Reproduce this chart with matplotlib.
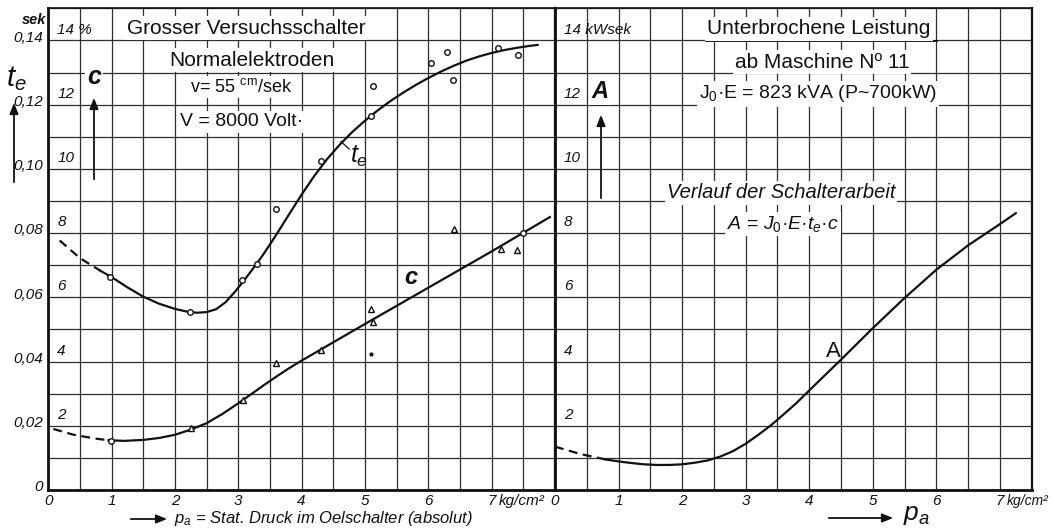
import numpy as np
import matplotlib
matplotlib.use("Agg")
import matplotlib.pyplot as plt
from matplotlib.transforms import ScaledTranslation

plt.rcParams['font.family'] = ['Liberation Sans', 'DejaVu Sans']
plt.rcParams['mathtext.fontset'] = 'custom'
plt.rcParams['mathtext.rm'] = 'Liberation Sans'
plt.rcParams['mathtext.it'] = 'Liberation Sans:italic'

# ---------------- data ----------------
# left panel: t_e (seconds) curve and measurements
te_dash_x = [0.18, 0.5, 0.82]
te_dash_y = [0.0777, 0.0722, 0.0683]
te_curve_x = [0.82, 1.0, 1.25, 1.5, 1.75, 2.0, 2.2, 2.35, 2.5, 2.65, 2.8, 2.95, 3.1,
              3.25, 3.4, 3.6, 3.8, 4.0, 4.2, 4.4, 4.6, 4.8, 5.0, 5.2, 5.4, 5.6, 5.8,
              6.0, 6.2, 6.4, 6.6, 6.8, 7.0, 7.2, 7.4, 7.6, 7.73]
te_curve_y = [0.0683, 0.0663, 0.0631, 0.0602, 0.0580, 0.0564, 0.0555, 0.0552, 0.0554,
              0.0563, 0.0585, 0.0618, 0.0655, 0.0694, 0.0735, 0.0795, 0.0858, 0.0920,
              0.0978, 0.1030, 0.1075, 0.1115, 0.1150, 0.1182, 0.1211, 0.1237, 0.1261,
              0.1283, 0.1303, 0.1321, 0.1337, 0.1350, 0.1361, 0.1370, 0.1377, 0.1383,
              0.1386]
te_pts_x = [0.98, 2.24, 3.06, 3.30, 3.59, 4.30, 5.13, 5.10, 6.04, 6.30, 6.39, 7.10, 7.41]
te_pts_y = [0.0664, 0.0553, 0.0655, 0.0704, 0.0876, 0.1025, 0.1259, 0.1165, 0.1329,
            0.1363, 0.1277, 0.1376, 0.1355]

# left panel: c (%) curve and measurements
c_dash_x = [0.08, 0.4, 0.75, 0.95]
c_dash_y = [1.90, 1.72, 1.60, 1.55]
c_curve_x = [0.95, 1.2, 1.5, 1.75, 2.0, 2.25, 2.5, 2.75, 3.0, 3.2, 3.4, 3.6, 3.8,
             4.0, 4.5, 5.0, 6.0, 7.0, 7.92]
c_curve_y = [1.55, 1.53, 1.56, 1.62, 1.72, 1.88, 2.08, 2.37, 2.70, 2.98, 3.26, 3.53,
             3.79, 4.03, 4.60, 5.17, 6.30, 7.43, 8.50]
c_tri_x = [2.25, 3.07, 3.59, 4.30, 5.09, 5.13, 6.40, 7.14, 7.40]
c_tri_y = [1.92, 2.80, 3.97, 4.37, 5.64, 5.22, 8.14, 7.49, 7.47]
c_circ_x = [0.99, 7.50]
c_circ_y = [1.54, 8.01]
c_dot_x = [5.09]
c_dot_y = [4.24]

# right panel: A (kWsek)
A_dash_x = [0.0, 0.4, 0.8]
A_dash_y = [1.35, 1.12, 0.95]
A_curve_x = [0.8, 1.0, 1.2, 1.4, 1.6, 1.8, 2.0, 2.2, 2.4, 2.6, 2.8, 3.0, 3.2, 3.4,
             3.6, 3.8, 4.0, 4.5, 5.0, 5.5, 6.0, 6.5, 7.0, 7.25]
A_curve_y = [0.95, 0.89, 0.84, 0.80, 0.78, 0.78, 0.80, 0.85, 0.92, 1.04, 1.21, 1.44,
             1.72, 2.02, 2.36, 2.71, 3.10, 4.06, 5.04, 5.98, 6.86, 7.62, 8.28, 8.62]

# ticks / labels
x_ticks = [0, 1, 2, 3, 4, 5, 6, 7]
te_ticks = [0, 0.02, 0.04, 0.06, 0.08, 0.10, 0.12, 0.14]
te_labels = ['0', '0,02', '0,04', '0,06', '0,08', '0,10', '0,12', '0,14']
c_ticks = [2, 4, 6, 8, 10, 12, 14]
c_labels = ['2', '4', '6', '8', '10', '12', '14 %']
A_ticks = [2, 4, 6, 8, 10, 12, 14]
A_labels = ['2', '4', '6', '8', '10', '12', '14 kWsek']

# ---------------- figure ----------------
W, H = 1054, 528
fig = plt.figure(figsize=(W / 100, H / 100), dpi=100)
fig.patch.set_facecolor('white')

def frac(x0, y0, x1, y1):
    return [x0 / W, 1 - y1 / H, (x1 - x0) / W, (y1 - y0) / H]

ax1 = fig.add_axes(frac(48.3, 8.3, 555, 490))
ax2 = fig.add_axes(frac(555, 8.3, 1031.7, 490))
ax1t = ax1.twinx()

ink = '#111111'
gridc = '#2e2e2e'

for ax, xmax in ((ax1, 8), (ax2, 7.5)):
    ax.set_xlim(0, xmax)
    ax.set_ylim(0, 15)
    ax.set_xticks(x_ticks)
    ax.set_xticks(np.arange(0, xmax + 0.01, 0.5), minor=True)
    ax.set_yticks(np.arange(0, 15.01, 1))
    ax.set_yticklabels([])
    ax.grid(True, which='both', color=gridc, lw=0.9, zorder=0)
    ax.set_axisbelow(True)
    ax.tick_params(axis='both', which='both', length=0)
    ax.tick_params(axis='x', pad=3, labelsize=11)
    for lab in ax.get_xticklabels():
        lab.set_fontstyle('italic')
        lab.set_color(ink)
    for s in ax.spines.values():
        s.set_color(ink)
    ax.spines['left'].set_linewidth(2.0)
    ax.spines['bottom'].set_linewidth(2.0)
    ax.spines['top'].set_linewidth(1.2)
    ax.spines['right'].set_linewidth(1.6)

ax1t.set_ylim(0, 0.15)
ax1t.yaxis.tick_left()
ax1t.set_yticks(te_ticks)
ax1t.set_yticklabels(te_labels)
ax1t.tick_params(axis='y', length=0, pad=4, labelsize=11)
for lab in ax1t.get_yticklabels():
    lab.set_fontstyle('italic')
    lab.set_color(ink)
    lab.set_transform(lab.get_transform() + ScaledTranslation(0, 3 / 72, fig.dpi_scale_trans))
for s in ax1t.spines.values():
    s.set_visible(False)

# inner labels
for v, t in zip(c_ticks, c_labels):
    ax1.text(0.14, v + 0.12, t, fontsize=11, style='italic', color=ink,
             ha='left', va='bottom', zorder=5)
for v, t in zip(A_ticks, A_labels):
    ax2.text(0.14, v + 0.12, t, fontsize=11, style='italic', color=ink,
             ha='left', va='bottom', zorder=5)

ax1.text(-0.23, 14.64, 'sek', fontsize=10.5, style='italic', color=ink,
         ha='center', va='center', fontweight='bold')

# ---------------- curves ----------------
lw = 1.6
ax1t.plot(te_dash_x, te_dash_y, color=ink, lw=lw, ls=(0, (4, 2.5)))
ax1t.plot(te_curve_x, te_curve_y, color=ink, lw=lw, solid_capstyle='round',
          solid_joinstyle='round')
ax1t.plot(te_pts_x, te_pts_y, ls='none', marker='o', ms=4, mfc='white', mec=ink, mew=1.0)

ax1.plot(c_dash_x, c_dash_y, color=ink, lw=lw, ls=(0, (4, 2.5)), zorder=3)
ax1.plot(c_curve_x, c_curve_y, color=ink, lw=lw, zorder=3, solid_joinstyle='round')
ax1.plot(c_tri_x, c_tri_y, ls='none', marker='^', ms=5, mfc='white', mec=ink, mew=1.0, zorder=4)
ax1.plot(c_circ_x, c_circ_y, ls='none', marker='o', ms=4, mfc='white', mec=ink, mew=1.0, zorder=4)
ax1.plot(c_dot_x, c_dot_y, ls='none', marker='o', ms=2, color=ink, zorder=4)

ax2.plot(A_dash_x, A_dash_y, color=ink, lw=lw, ls=(0, (4, 2.5)))
ax2.plot(A_curve_x, A_curve_y, color=ink, lw=lw, solid_joinstyle='round')

# curve labels
ax1.text(4.9, 10.40, r'$t_e$', fontsize=18, color=ink, ha='center', va='center')
ax1.plot([4.62, 4.75], [10.85, 10.62], color=ink, lw=0.9)
ax1.text(5.72, 6.61, 'c', fontsize=17, style='italic', fontweight='bold',
         color=ink, ha='center', va='center')
ax2.text(4.38, 4.3, 'A', fontsize=16, color=ink, ha='center', va='center')

# ---------------- texts ----------------
def ftxt(x, y, s, **kw):
    kw.setdefault('color', ink)
    kw.setdefault('ha', 'center')
    kw.setdefault('va', 'center')
    fig.text(x / W, 1 - y / H, s, **kw)

box = dict(fc='white', ec='none', pad=1.5)
ftxt(246, 28, 'Grosser Versuchsschalter', fontsize=15, bbox=box)
ftxt(252, 60, 'Normalelektroden', fontsize=15, bbox=box)
ftxt(241, 87, r'v= 55 $^{\mathrm{cm}}$/sek', fontsize=13, bbox=box)
ftxt(242, 122, 'V = 8000 Volt·', fontsize=14, bbox=box)

ftxt(819, 29, 'Unterbrochene Leistung', fontsize=15, bbox=box)
ftxt(822, 62, 'ab Maschine Nº 11', fontsize=15, bbox=box)
ftxt(818, 94, r'J$_0$·E = 823 kVA (P~700kW)', fontsize=14, bbox=box)
ftxt(781, 193, 'Verlauf der Schalterarbeit', fontsize=14.5, style='italic', bbox=box)
ftxt(783, 224, r'$A$ = $J_0$·$E$·$t_e$·$c$', fontsize=14, bbox=box)

# underlines
fig.add_artist(plt.Line2D([705.6 / W, 937 / W], [1 - 40.5 / H, 1 - 40.5 / H], color=ink, lw=1.3))
fig.add_artist(plt.Line2D([741 / W, 900 / W], [1 - 72.5 / H, 1 - 72.5 / H], color=ink, lw=1.3))

# axis symbols and arrows
ftxt(16, 79, r'$t_e$', fontsize=21)
ftxt(94, 77, 'c', fontsize=18, style='italic', fontweight='bold', bbox=box)
ftxt(600, 91, 'A', fontsize=17, style='italic', fontweight='bold', bbox=box)

def farrow(x0, y0, x1, y1):
    fig.add_artist(matplotlib.patches.FancyArrowPatch(
        (x0 / W, 1 - y0 / H), (x1 / W, 1 - y1 / H), transform=fig.transFigure,
        arrowstyle='-|>,head_length=5,head_width=2', mutation_scale=1.3,
        color=ink, lw=1.3))

farrow(14, 185, 14, 100)
farrow(94, 182, 94, 95)
farrow(601, 201, 601, 112)
farrow(128, 519, 170, 519)
farrow(826, 518, 896, 518)

# x units and axis titles
ftxt(499, 500.5, 'kg/cm²', fontsize=11, style='italic', ha='left')
ftxt(1007, 500.5, 'kg/cm²', fontsize=10, style='italic', ha='left')
ftxt(174, 518, r'$p_a$ = Stat. Druck im Oelschalter (absolut)', fontsize=12,
     style='italic', ha='left')
ftxt(903, 515, r'$p_a$', fontsize=19, ha='left')

fig.savefig('out.png', dpi=100, facecolor='white')
